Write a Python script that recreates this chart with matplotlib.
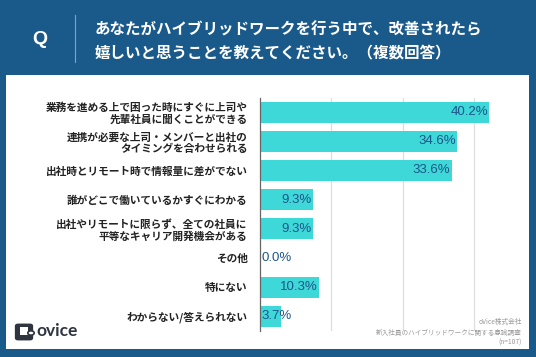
import matplotlib
matplotlib.use("Agg")
import matplotlib.pyplot as plt
from matplotlib.patches import Rectangle, FancyBboxPatch, Circle

categories = [
    "業務を進める上で困った時にすぐに上司や\n先輩社員に聞くことができる",
    "連携が必要な上司・メンバーと出社の\nタイミングを合わせられる",
    "出社時とリモート時で情報量に差がでない",
    "誰がどこで働いているかすぐにわかる",
    "出社やリモートに限らず、全ての社員に\n平等なキャリア開発機会がある",
    "その他",
    "特にない",
    "わからない/答えられない",
]
values = [40.2, 34.6, 33.6, 9.3, 9.3, 0.0, 10.3, 3.7]
value_labels = ["40.2%", "34.6%", "33.6%", "9.3%", "9.3%", "0.0%", "10.3%", "3.7%"]
title_lines = ["あなたがハイブリッドワークを行う中で、改善されたら",
               "嬉しいと思うことを教えてください。（複数回答）"]
source_lines = ["oVice株式会社", "新入社員のハイブリッドワークに関する意識調査", "(n=107)"]

W, H = 536, 357
BLUE = "#1a5a8b"
TEAL = "#3ed8d8"
LABEL_BLUE = "#1c5589"
JP = ["Noto Sans CJK JP", "DejaVu Sans"]

fig = plt.figure(figsize=(W / 100, H / 100), dpi=100)
fig.patch.set_facecolor(BLUE)

def fx(x):
    return x / W

def fy(y):
    return 1 - y / H

# white panel (background axes)
bg = fig.add_axes([fx(6), fy(349), (529 - 6) / W, (349 - 75) / H], zorder=-5)
bg.set_facecolor("white")
bg.set_xticks([])
bg.set_yticks([])
for s in bg.spines.values():
    s.set_visible(False)

# header
fig.text(fx(40), fy(40), "Q", color="white", fontsize=14, fontweight="bold",
         ha="center", va="center", family=["Liberation Sans"])
fig.add_artist(plt.Line2D([fx(74.5), fx(74.5)], [fy(15), fy(62)],
                          transform=fig.transFigure, color="#7fa3c4", lw=0.8))
fig.text(fx(95), fy(29), title_lines[0], color="white", fontsize=11.2,
         fontweight="bold", ha="left", va="center", family=JP)
fig.text(fx(95), fy(52), title_lines[1], color="white", fontsize=11.2,
         fontweight="bold", ha="left", va="center", family=JP)

# chart axes
ax = fig.add_axes([fx(260), fy(331), (528 - 260) / W, (331 - 97.5) / H], zorder=1)
ax.set_facecolor("none")
y = list(range(len(categories)))
ax.barh(y, values, height=0.72, color=TEAL, zorder=2)
ax.set_xlim(0, 47)
ax.set_ylim(len(categories) - 0.5, -0.5)
ax.set_xticks([12.5, 25, 37.5])
ax.set_xticklabels([])
ax.tick_params(axis="both", length=0)
ax.grid(axis="x", color="#dedede", lw=0.9, zorder=0)
ax.set_yticks(y)
ax.set_yticklabels(categories, fontsize=7.7, fontweight="bold", family=JP,
                   color="#222222", linespacing=1.15)
ax.tick_params(axis="y", pad=9)
for s in ["top", "right", "bottom"]:
    ax.spines[s].set_visible(False)
ax.spines["left"].set_color("#666666")
ax.spines["left"].set_linewidth(0.9)
ax.spines["left"].set_zorder(3)

for i, (v, lab) in enumerate(zip(values, value_labels)):
    if v >= 6:
        ax.text(v - 0.2, i, lab, ha="right", va="center", fontsize=9.5,
                color=LABEL_BLUE, family=["Liberation Sans"], zorder=4)
    else:
        ax.text(0.2, i, lab, ha="left", va="center", fontsize=9.5,
                color=LABEL_BLUE, family=["Liberation Sans"], zorder=4)

# source notes
for txt, yy in zip(source_lines, [322, 332.5, 343]):
    fig.text(fx(522), fy(yy), txt, ha="right", va="center", fontsize=4.8,
             color="#999999", family=JP)

# logo
fig.patches.append(FancyBboxPatch((fx(17), fy(339)), 14 / W, 14 / H,
                                  boxstyle="round,pad=0.004,rounding_size=0.006",
                                  transform=fig.transFigure, facecolor="#2e3440",
                                  edgecolor="none", zorder=5))
fig.patches.append(Rectangle((fx(20), fy(335)), 8 / W, 8 / H,
                             transform=fig.transFigure, facecolor="white",
                             edgecolor="none", zorder=6))
fig.patches.append(Circle((fx(31), fy(333)), 3.2 / W, transform=fig.transFigure,
                          facecolor="white", edgecolor="#2e3440", lw=1.2, zorder=7))
fig.text(fx(36), fy(331.5), "ovice", ha="left", va="center", fontsize=12.5,
         fontweight="bold", color="#2e3440", family=["Lato", "DejaVu Sans"])

fig.savefig("out.png", dpi=100, facecolor=fig.get_facecolor())
